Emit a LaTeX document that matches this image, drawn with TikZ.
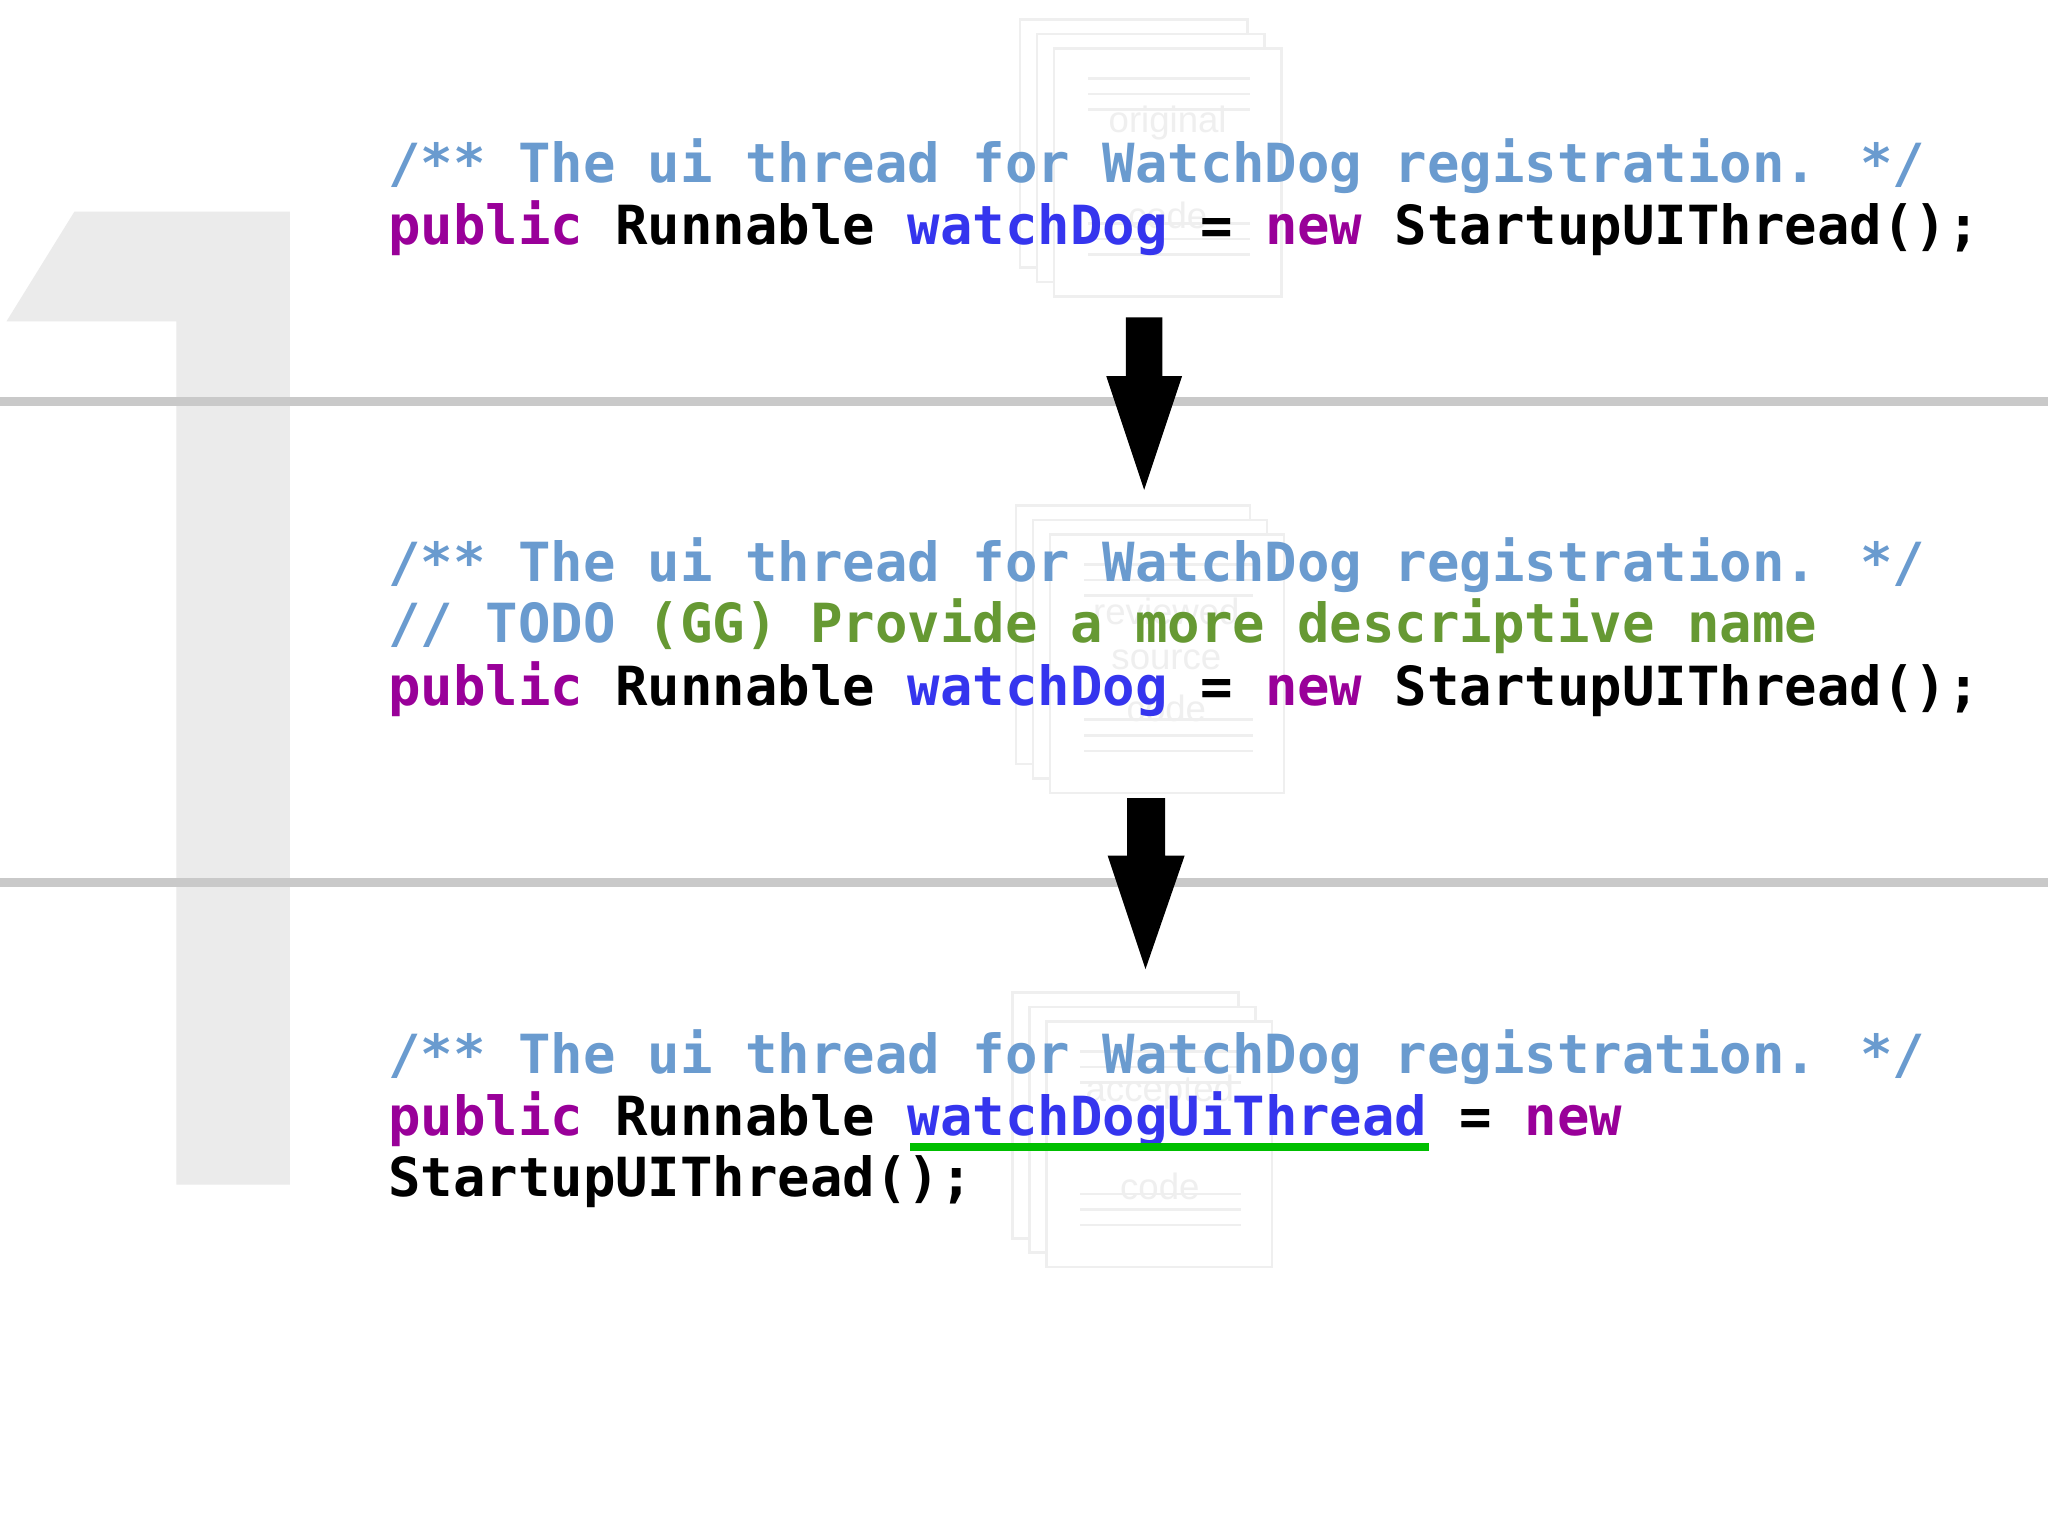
\documentclass[tikz,border=0pt]{standalone}
\usepackage{fontspec}
\newfontfamily\codefont{DejaVu Sans Mono}
\setmainfont{Liberation Sans}
\definecolor{cmt}{HTML}{6A9BCF}
\definecolor{kw}{HTML}{990099}
\definecolor{idf}{HTML}{3535EE}
\definecolor{todo}{HTML}{669933}
\definecolor{bigone}{HTML}{EBEBEB}
\definecolor{sep}{HTML}{C9C9C9}
\definecolor{ghost}{HTML}{EFEFEF}
\newcommand{\CM}[1]{\textcolor{cmt}{#1}}
\newcommand{\KW}[1]{\textcolor{kw}{#1}}
\newcommand{\ID}[1]{\textcolor{idf}{#1}}
\newcommand{\TD}[1]{\textcolor{todo}{#1}}
\begin{document}
\begin{tikzpicture}[x=1pt,y=-1pt,
  code/.style={anchor=base west,inner sep=0pt,font=\codefont\bfseries\fontsize{41.3}{47}\selectfont},
  page/.style={draw=ghost,line width=2pt,fill=white},
  ghosttext/.style={text=ghost,font=\fontsize{28}{30}\selectfont,inner sep=0pt},
  blockarrow/.style={fill=black}]
\useasboundingbox[fill=white] (0,0) rectangle (1568,1175);
% big 1
\fill[bigone] (57,162) -- (222,162) -- (222,907) -- (135,907) -- (135,246) -- (5,246) -- cycle;
% separators
\fill[sep] (0,304) rectangle (1568,311);
\fill[sep] (0,672) rectangle (1568,679);
% ghost pages
\foreach \ox/\oy/\w/\h in {781/15/174/190, 778/387/179/198, 775/760/173/188}{
  \draw[page] (\ox,\oy) rectangle ++(\w,\h);
  \draw[page] (\ox+13,\oy+11) rectangle ++(\w,\h);
  \draw[page] (\ox+26,\oy+22) rectangle ++(\w,\h);
  \foreach \k in {0,1,2}{
    \draw[ghost,line width=2pt] (\ox+52,\oy+45+\k*12) -- ++(\w-50,0);
    \draw[ghost,line width=2pt] (\ox+52,\oy+\h-10+\k*-12) -- ++(\w-50,0);
  }
}
\node[ghosttext] (g1) at (894,94) {original};
\node[ghosttext] (g1b) at (894,165) {code};
\node[ghosttext] (g2a) at (893,468) {reviewed};
\node[ghosttext] (g2b) at (893,505) {source};
\node[ghosttext] (g2c) at (893,542) {code};
\node[ghosttext] (g3a) at (888,836) {accepted};
\node[ghosttext] (g3b) at (888,908) {code};
% arrows
\fill[blockarrow] (862,243) -- (890,243) -- (890,288) -- (905,288) -- (876,375) -- (847,288) -- (862,288) -- cycle;
\fill[blockarrow] (863,611) -- (892,611) -- (892,655) -- (907,655) -- (877,742) -- (848,655) -- (863,655) -- cycle;
% block 1
\node[code] (a1) at (297,140) {\CM{/** The ui thread for WatchDog registration. */}};
\node[code] (a2) at (297,187) {\KW{public} Runnable \ID{watchDog} = \KW{new} StartupUIThread();};
% block 2
\node[code] (b1) at (297,445) {\CM{/** The ui thread for WatchDog registration. */}};
\node[code] (b2) at (297,492) {\CM{// TODO} \TD{(GG) Provide a more descriptive name}};
\node[code] (b3) at (297,540) {\KW{public} Runnable \ID{watchDog} = \KW{new} StartupUIThread();};
% block 3
\node[code] (c1) at (297,822) {\CM{/** The ui thread for WatchDog registration. */}};
\node[code] (c2) at (297,869) {\KW{public} Runnable \ID{watchDogUiThread} = \KW{new}};
\node[code] (c3) at (297,916) {StartupUIThread();};
\fill[green!75!black] (697,875) rectangle (1094,881);
\end{tikzpicture}
\end{document}
